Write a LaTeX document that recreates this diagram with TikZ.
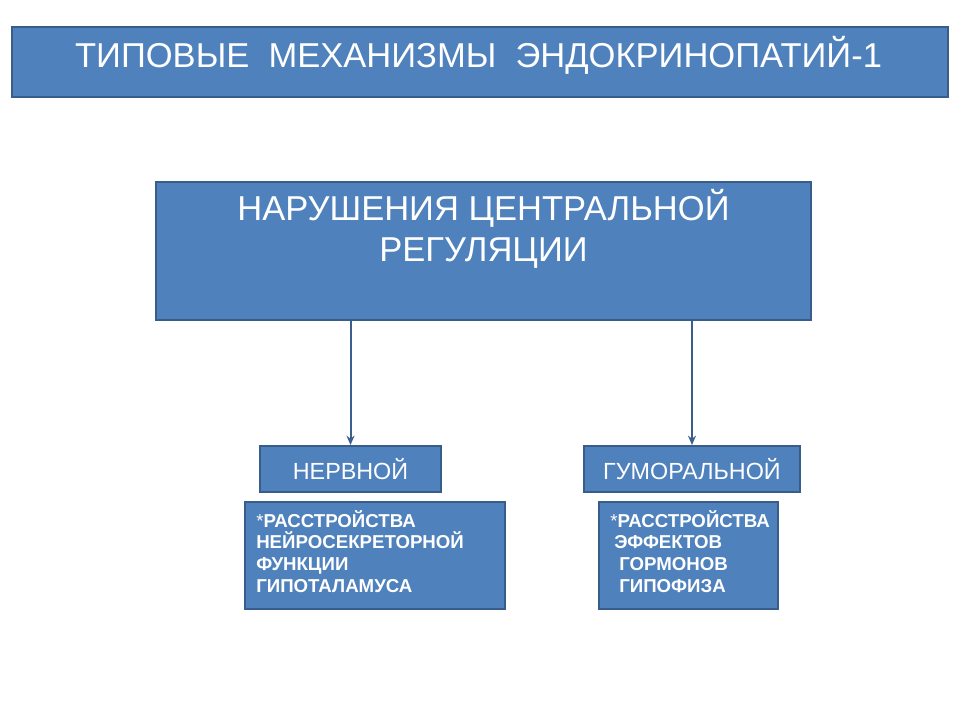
\documentclass[tikz,border=0pt]{standalone}
\usepackage{fontspec}
\setmainfont{Liberation Sans}
\usetikzlibrary{arrows.meta}
\definecolor{boxfill}{HTML}{4F81BD}
\definecolor{boxline}{HTML}{385D8A}
\definecolor{arrowc}{HTML}{3B5E8C}
\begin{document}
\begin{tikzpicture}[x=0.75pt,y=-0.75pt,
  box/.style={draw=boxline,fill=boxfill,line width=1.5pt,inner sep=0pt,text=white},
  conn/.style={draw=arrowc,line width=1.5pt,-{Stealth[length=7pt,width=6pt]}},
  lbl/.style={text=white,inner sep=0pt},
  big/.style={lbl,anchor=base,font=\fontsize{25.9}{30}\selectfont},
  small/.style={lbl,anchor=base west,font=\bfseries\fontsize{14}{16}\selectfont}]
\useasboundingbox (0,0) rectangle (960,720);
\fill[white] (0,0) rectangle (960,720);
\node[box,minimum width=702pt,minimum height=52.5pt] (title) at (480,62) {};
\node[lbl,anchor=base,font=\fontsize{25.9}{30}\selectfont] (tt) at (478.5,68) {ТИПОВЫЕ\ \ МЕХАНИЗМЫ\ \ ЭНДОКРИНОПАТИЙ-1};
\node[box,minimum width=491.25pt,minimum height=103.5pt] (main) at (483.5,251) {};
\node[big] (mt1) at (483.5,221) {НАРУШЕНИЯ ЦЕНТРАЛЬНОЙ};
\node[big] (mt2) at (483.5,262) {РЕГУЛЯЦИИ};
\node[box,minimum width=135.75pt,minimum height=34.5pt,font=\fontsize{17.5}{20}\selectfont] (nerv) at (350.5,469) {НЕРВНОЙ};
\node[box,minimum width=162pt,minimum height=34.5pt,font=\fontsize{17.5}{20}\selectfont] (gum) at (692,469) {ГУМОРАЛЬНОЙ};
\node[box,minimum width=195pt,minimum height=80.25pt] (bl) at (375,555.5) {};
\node[small] (bl1) at (256,527) {{\mdseries *}РАССТРОЙСТВА};
\node[small] (bl2) at (256,548.5) {НЕЙРОСЕКРЕТОРНОЙ};
\node[small] (bl3) at (256,570) {ФУНКЦИИ};
\node[small] (bl4) at (256,592) {ГИПОТАЛАМУСА};
\node[box,minimum width=134.25pt,minimum height=80.25pt] (br) at (688.5,555.5) {};
\node[small] (br1) at (610,527) {{\mdseries *}РАССТРОЙСТВА};
\node[small] (br2) at (614,548.5) {ЭФФЕКТОВ};
\node[small] (br3) at (619,570) {ГОРМОНОВ};
\node[small] (br4) at (619,592) {ГИПОФИЗА};
\draw[conn] (main.south -| nerv.north) -- (nerv.north);
\draw[conn] (main.south -| gum.north) -- (gum.north);
\end{tikzpicture}
\end{document}
